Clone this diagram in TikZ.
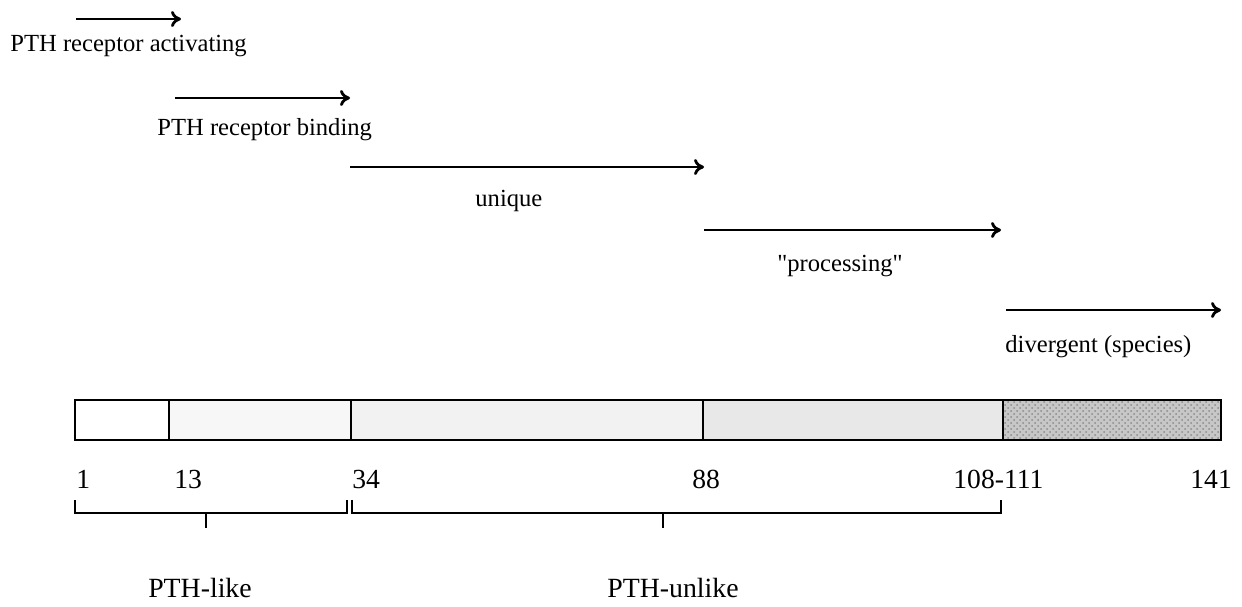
\documentclass[tikz,border=0pt]{standalone}
\usepackage{fontspec}
\setmainfont{Liberation Serif}[Ligatures=TeXOff]
\usetikzlibrary{arrows.meta,patterns}
\begin{document}
\begin{tikzpicture}[x=0.5pt,y=-0.5pt,
  arr/.style={line width=1.4pt,-{To[length=5pt,width=8pt]}},
  toplab/.style={font=\fontsize{12.3}{14}\selectfont, inner sep=0pt, anchor=base west},
  numlab/.style={font=\fontsize{13.8}{16}\selectfont, inner sep=0pt, anchor=base west},
  botlab/.style={font=\fontsize{13.9}{16}\selectfont, inner sep=0pt, anchor=base},
  segbox/.style={draw=black, line width=1.1pt},
  brk/.style={line width=1pt}]
\useasboundingbox (0,0) rectangle (1242,606);

% arrows
\coordinate (a1s) at (76,19);   \coordinate (a1e) at (181,19);
\coordinate (a2s) at (175,98);  \coordinate (a2e) at (350,98);
\coordinate (a3s) at (350,167); \coordinate (a3e) at (704,167);
\coordinate (a4s) at (704,230); \coordinate (a4e) at (1001,230);
\coordinate (a5s) at (1006,310);\coordinate (a5e) at (1221,310);
\draw[arr] (a1s) -- (a1e);
\draw[arr] (a2s) -- (a2e);
\draw[arr] (a3s) -- (a3e);
\draw[arr] (a4s) -- (a4e);
\draw[arr] (a5s) -- (a5e);

% arrow labels
\node[toplab] (l1) at (10,51) {PTH receptor activating};
\node[toplab] (l2) at (157,135) {PTH receptor binding};
\node[toplab] (l3) at (475,206) {unique};
\node[toplab] (l4) at (777,271) {"processing"};
\node[toplab] (l5) at (1005,352) {divergent (species)};

% bar
\fill[white] (75,400) rectangle (169,440);
\fill[black!3] (169,400) rectangle (351,440);
\fill[black!5] (351,400) rectangle (703,440);
\fill[black!9] (703,400) rectangle (1003,440);
\fill[black!22] (1003,400) rectangle (1221,440);
\fill[pattern=crosshatch dots, pattern color=black!45] (1003,400) rectangle (1221,440);
\draw[segbox] (75,400) rectangle (1221,440);
\draw[segbox] (169,400) -- (169,440);
\draw[segbox] (351,400) -- (351,440);
\draw[segbox] (703,400) -- (703,440);
\draw[segbox] (1003,400) -- (1003,440);

% numbers
\node[numlab] (n1) at (76,488) {1};
\node[numlab] (n13) at (174,488) {13};
\node[numlab] (n34) at (352,488) {34};
\node[numlab] (n88) at (692,488) {88};
\node[numlab] (n108) at (953,488) {108-111};
\node[numlab] (n141) at (1190,488) {141};

% brackets
\coordinate (b1l) at (75,500);  \coordinate (b1r) at (347,500);
\coordinate (b1m) at (206,513); \coordinate (b1t) at (206,528);
\coordinate (b2l) at (352,500); \coordinate (b2r) at (1001,500);
\coordinate (b2m) at (663,513); \coordinate (b2t) at (663,528);
\draw[brk] (b1l) |- (b1m) -| (b1r);
\draw[brk] (b1m) -- (b1t);
\draw[brk] (b2l) |- (b2m) -| (b2r);
\draw[brk] (b2m) -- (b2t);

% bracket labels
\node[botlab] (p1) at (200,597) {PTH-like};
\node[botlab] (p2) at (673,597) {PTH-unlike};
\end{tikzpicture}
\end{document}
